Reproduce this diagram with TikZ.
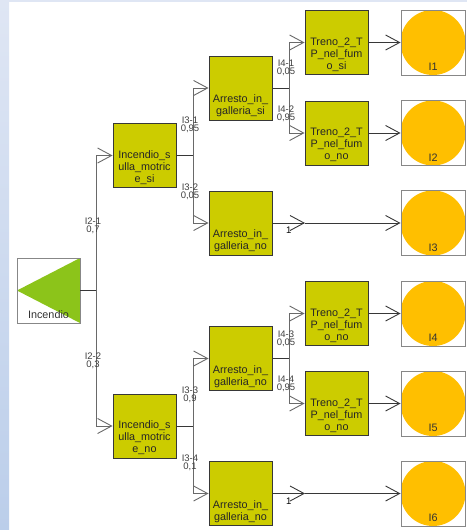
\documentclass[tikz,border=0pt]{standalone}
\usepackage{fontspec}
\setmainfont{Liberation Sans}
\usetikzlibrary{arrows.meta}
\definecolor{mbox}{RGB}{204,204,0}
\definecolor{morange}{RGB}{255,191,0}
\definecolor{mgreen}{RGB}{140,196,26}
\definecolor{mdark}{RGB}{55,55,55}
\definecolor{mgray}{RGB}{105,105,105}
\definecolor{mslidetop}{RGB}{223,230,244}
\definecolor{mslidebot}{RGB}{187,206,234}

\begin{document}
\begin{tikzpicture}[x=1pt,y=-1pt,
  event/.style={draw=mdark,line width=0.9pt,fill=mbox,minimum width=63pt,minimum height=64pt,inner sep=0pt},
  evtext/.style={anchor=south,align=center,font=\fontsize{10.8}{12}\selectfont,text=black!85,inner sep=3.5pt},
  outcome/.style={draw=mgray!80,line width=0.9pt,fill=white,minimum width=64pt,minimum height=65pt,inner sep=0pt,
    path picture={\fill[morange] (path picture bounding box.center) circle (32.5pt);}},
  outtext/.style={anchor=south,font=\fontsize{10.8}{12}\selectfont,text=black!80,inner sep=4.5pt},
  stub/.style={draw=mdark,line width=1pt},
  branch/.style={draw=mgray,line width=0.9pt,-{Straight Barb[length=14pt,width=15pt]}},
  prob/.style={pos=0.25,xshift=-3pt,yshift=-3pt,align=center,inner sep=0pt,
    font=\fontsize{9.5}{8}\selectfont,text=black!75}]
  \useasboundingbox (0,0) rectangle (467,530);
  % slide border
  \fill[top color=mslidetop,bottom color=mslidebot] (0,0) rectangle (9,530);
  \fill[mslidetop] (9,0) rectangle (467,2);

  % initiating event
  \node[draw=mgray!80,line width=0.9pt,fill=white,minimum width=63pt,minimum height=65pt,inner sep=0pt,
    path picture={\fill[mgreen] (path picture bounding box.north east) -- (path picture bounding box.west)
      -- (path picture bounding box.south east) -- cycle;},
    label={[outtext]below:Incendio}] (root) at (48.5,290.5) {};

  % branch points
  \node[event,label={[evtext]below:{Incendio\_s\\ulla\_motric\\e\_si}}] (msi) at (144.5,155.5) {};
  \node[event,label={[evtext]below:{Incendio\_s\\ulla\_motric\\e\_no}}] (mno) at (144.5,426) {};
  \node[event,label={[evtext]below:{Arresto\_in\_\\galleria\_si}}] (asi) at (240.5,88) {};
  \node[event,label={[evtext]below:{Arresto\_in\_\\galleria\_no}}] (ano1) at (240.5,223) {};
  \node[event,label={[evtext]below:{Arresto\_in\_\\galleria\_no}}] (ano2) at (240.5,358.5) {};
  \node[event,label={[evtext]below:{Arresto\_in\_\\galleria\_no}}] (ano3) at (240.5,493.5) {};
  \node[event,label={[evtext]below:{Treno\_2\_T\\P\_nel\_fum\\o\_si}}] (t1) at (336.5,42.5) {};
  \node[event,label={[evtext]below:{Treno\_2\_T\\P\_nel\_fum\\o\_no}}] (t2) at (336.5,133) {};
  \node[event,label={[evtext]below:{Treno\_2\_T\\P\_nel\_fum\\o\_no}}] (t4) at (336.5,313.5) {};
  \node[event,label={[evtext]below:{Treno\_2\_T\\P\_nel\_fum\\o\_no}}] (t5) at (336.5,403.5) {};

  % end states
  \foreach \i/\y in {1/42.5,2/133,3/223,4/313.5,5/403.5,6/493.5}
    \node[outcome,label={[outtext]below:I\i}] (o\i) at (433,\y) {};

  % forks
  \coordinate (f1) at (96,290.5);
  \coordinate (f2) at (193,155.5);
  \coordinate (f3) at (289,88);
  \coordinate (f4) at (193,426);
  \coordinate (f5) at (289,358.5);
  \coordinate (m3) at (305,223);
  \coordinate (m6) at (305,493.5);

  \draw[stub] (root) -- (f1);
  \draw[branch] (f1) |- node[prob] {I2-1\\0,7} (msi);
  \draw[branch] (f1) |- node[prob] {I2-2\\0,3} (mno);

  \draw[stub] (msi) -- (f2);
  \draw[branch] (f2) |- node[prob] {I3-1\\0,95} (asi);
  \draw[branch] (f2) |- node[prob] {I3-2\\0,05} (ano1);

  \draw[stub] (asi) -- (f3);
  \draw[branch] (f3) |- node[prob] {I4-1\\0,05} (t1);
  \draw[branch] (f3) |- node[prob] {I4-2\\0,95} (t2);

  \draw[stub] (mno) -- (f4);
  \draw[branch] (f4) |- node[prob] {I3-3\\0,9} (ano2);
  \draw[branch] (f4) |- node[prob] {I3-4\\0,1} (ano3);

  \draw[stub] (ano2) -- (f5);
  \draw[branch] (f5) |- node[prob] {I4-3\\0,05} (t4);
  \draw[branch] (f5) |- node[prob] {I4-4\\0,95} (t5);

  % single outcome branches
  \draw[branch,draw=mdark] (ano1) -- node[below=4pt,font=\fontsize{9.5}{8}\selectfont,inner sep=0pt] {1} (m3);
  \draw[branch,draw=mdark] (m3) -- (o3);
  \draw[branch,draw=mdark] (ano3) -- node[below=4pt,font=\fontsize{9.5}{8}\selectfont,inner sep=0pt] {1} (m6);
  \draw[branch,draw=mdark] (m6) -- (o6);

  \foreach \i in {1,2,4,5}
    \draw[branch,draw=mdark] (t\i) -- (o\i);
\end{tikzpicture}
\end{document}
